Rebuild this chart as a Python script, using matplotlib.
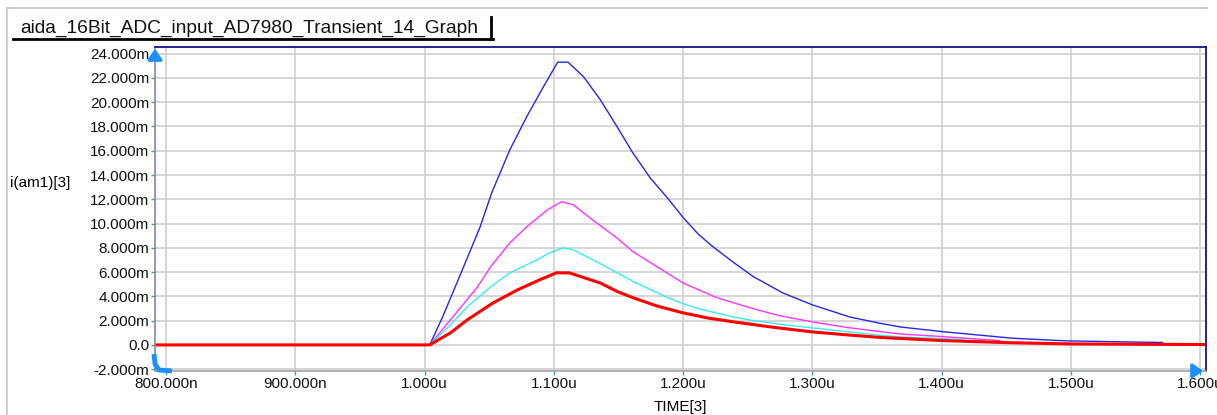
import matplotlib.pyplot as plt
from matplotlib.lines import Line2D
from matplotlib.patches import FancyArrowPatch

plt.rcParams['font.family'] = ['Liberation Sans', 'DejaVu Sans']

# time in ns, current in mA
t_blue = [791, 1004, 1014, 1027, 1043, 1052, 1066, 1079, 1092, 1103, 1111, 1123, 1136, 1149, 1161,
          1175, 1188, 1200, 1212, 1223, 1239, 1254, 1277, 1300, 1329, 1352, 1368, 1400, 1455, 1497, 1571]
i_blue = [0, 0, 2.31, 5.61, 9.73, 12.54, 16.08, 18.8, 21.28, 23.3, 23.3, 22.1, 20.2, 17.97, 15.84,
          13.7, 12.1, 10.5, 9.1, 8.1, 6.8, 5.65, 4.29, 3.3, 2.3, 1.79, 1.48, 1.1, 0.55, 0.33, 0.2]

t_mag = [791, 1004, 1020, 1041, 1051, 1066, 1079, 1095, 1106, 1115, 1130, 1149, 1161, 1176, 1200,
         1226, 1252, 1275, 1300, 1326, 1352, 1368, 1400, 1445]
i_mag = [0, 0, 2.06, 4.78, 6.43, 8.41, 9.73, 11.13, 11.8, 11.55, 10.3, 8.8, 7.7, 6.7, 5.1,
         3.9, 3.05, 2.4, 1.9, 1.45, 1.1, 0.9, 0.69, 0.35]

t_cyan = [791, 1004, 1020, 1033, 1051, 1066, 1084, 1097, 1107, 1115, 1136, 1161, 1188, 1200, 1213,
          1239, 1252, 1275, 1300, 1352, 1368, 1416]
i_cyan = [0, 0, 1.65, 3.13, 4.78, 5.94, 6.85, 7.59, 8.0, 7.84, 6.7, 5.25, 3.9, 3.4, 2.95,
          2.3, 2.05, 1.7, 1.4, 0.8, 0.66, 0.45]

t_red = [791, 1004, 1020, 1033, 1053, 1072, 1089, 1102, 1112, 1136, 1149, 1161, 1180, 1200, 1220,
         1239, 1270, 1300, 1330, 1352, 1400, 1450, 1500, 1604]
i_red = [0, 0, 0.99, 2.06, 3.46, 4.54, 5.36, 5.94, 5.94, 5.1, 4.4, 3.9, 3.2, 2.64, 2.2,
         1.9, 1.45, 1.07, 0.8, 0.62, 0.36, 0.19, 0.08, 0.03]

x_ticks = [800, 900, 1000, 1100, 1200, 1300, 1400, 1500, 1600]
x_labels = ["800.000n", "900.000n", "1.000u", "1.100u", "1.200u", "1.300u", "1.400u", "1.500u", "1.600u"]
y_ticks = [24, 22, 20, 18, 16, 14, 12, 10, 8, 6, 4, 2, 0, -2]
y_labels = ["24.000m", "22.000m", "20.000m", "18.000m", "16.000m", "14.000m", "12.000m",
            "10.000m", "8.000m", "6.000m", "4.000m", "2.000m", "0.0", "-2.000m"]

W, H = 1217, 415
fig = plt.figure(figsize=(W / 100, H / 100), dpi=100)
ax = fig.add_axes([155 / W, 1 - 371 / H, (1206 - 155) / W, (371 - 47) / H])

ax.plot(t_blue, i_blue, color="#2626e6", lw=1.0)
ax.plot(t_mag, i_mag, color="#ff33ff", lw=1.0)
ax.plot(t_cyan, i_cyan, color="#33eeee", lw=1.0)
ax.plot(t_red, i_red, color="#ff0000", lw=2.2)

ax.set_xlim(791.5, 1604.5)
ax.set_ylim(-2.15, 24.55)
ax.set_xticks(x_ticks)
ax.set_xticklabels(x_labels, fontsize=11, color="#111111")
ax.set_yticks(y_ticks)
ax.set_yticklabels(y_labels, fontsize=11, color="#111111")
ax.tick_params(axis="both", length=3, width=1, color="#3aa0a0", pad=1)
ax.grid(True, color="#d0d0d0", lw=1.2)
ax.set_axisbelow(True)

ax.spines["top"].set_color("#000080")
ax.spines["right"].set_color("#000080")
ax.spines["left"].set_color("#8888a0")
ax.spines["bottom"].set_color("#a0a0a8")
for s in ax.spines.values():
    s.set_linewidth(1.2)

fig.text(10 / W, 1 - 183 / H, "i(am1)[3]", fontsize=11, va="center", ha="left")
fig.text(680 / W, 1 - 407 / H, "TIME[3]", fontsize=11, va="center", ha="center")

# outer frame
fig.add_artist(Line2D([7 / W, 1207 / W], [1 - 8 / H, 1 - 8 / H], color="#c8c8c0", lw=1.2))
fig.add_artist(Line2D([7 / W, 7 / W], [1 - 8 / H, 0], color="#c8c8c0", lw=1.2))

# title box
fig.text(20 / W, 1 - 28 / H, "aida_16Bit_ADC_input_AD7980_Transient_14_Graph", fontsize=13.8,
         va="center", ha="left", color="#111111")
fig.add_artist(Line2D([13 / W, 493 / W], [1 - 39 / H, 1 - 39 / H], color="black", lw=2))
fig.add_artist(Line2D([491 / W, 491 / W], [1 - 17 / H, 1 - 39 / H], color="black", lw=2))

# axis arrows
arrow = dict(arrowstyle="-|>,head_width=0.35,head_length=0.5", color="#1e8fff", lw=2.5)
fig.add_artist(FancyArrowPatch((155 / W, 1 - 62 / H), (155 / W, 1 - 46 / H),
                               transform=fig.transFigure, mutation_scale=12, **arrow))
fig.add_artist(FancyArrowPatch((1190 / W, 1 - 371 / H), (1206 / W, 1 - 371 / H),
                               transform=fig.transFigure, mutation_scale=12, **arrow))
fig.add_artist(Line2D([154 / W, 155 / W, 159 / W, 172 / W],
                      [1 - 354 / H, 1 - 364 / H, 1 - 370 / H, 1 - 371 / H],
                      color="#1e8fff", lw=3.5, solid_capstyle="butt"))

fig.savefig("out.png", dpi=100)
